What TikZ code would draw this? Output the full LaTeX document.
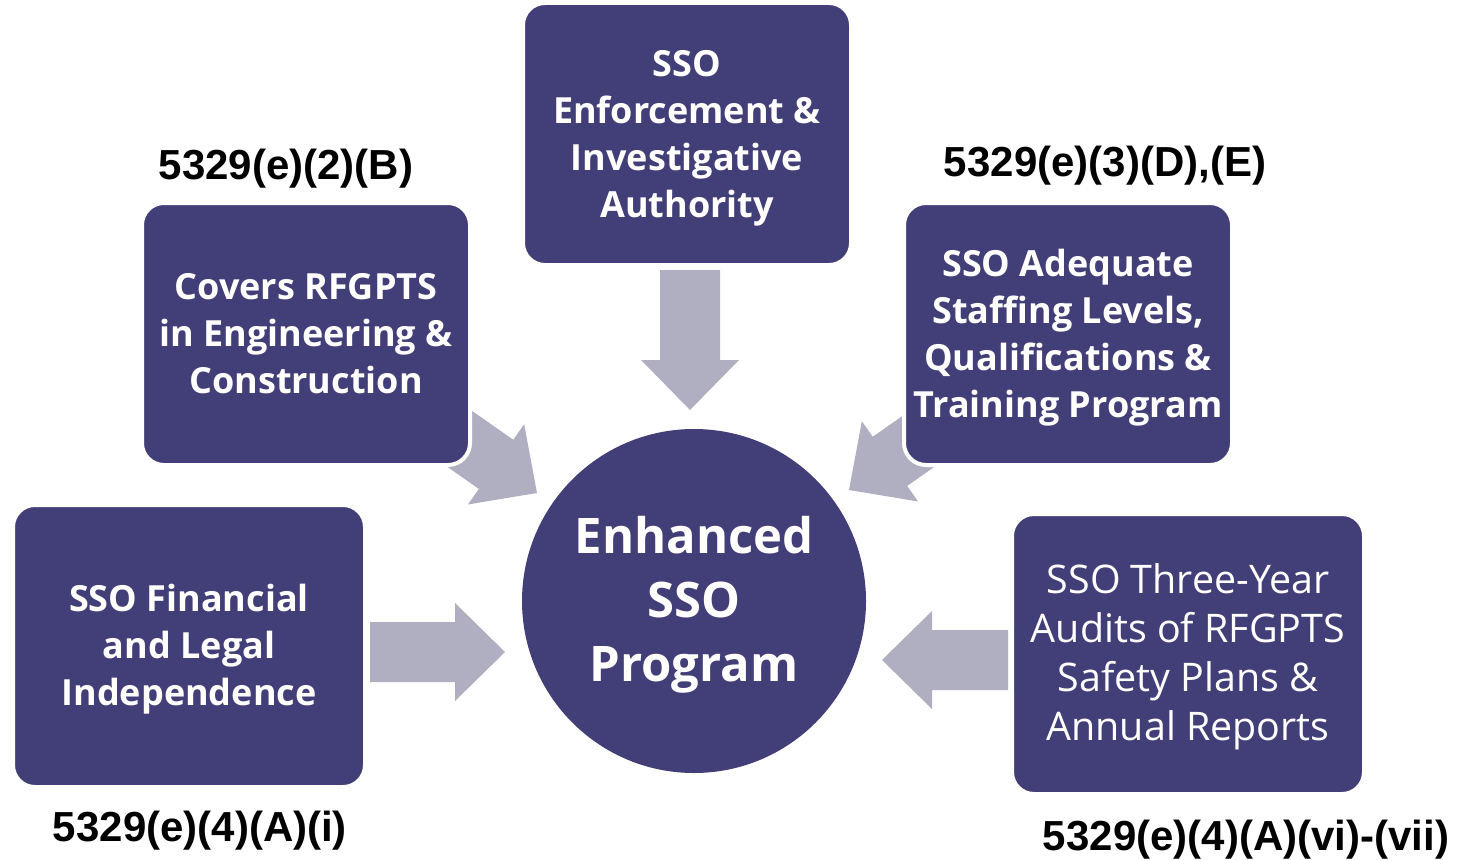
\documentclass[tikz,border=0pt]{standalone}
\usepackage{fontspec}
\setmainfont{Open Sans}
\newfontfamily\reffont{Liberation Sans}
\definecolor{sso}{HTML}{423E78}
\definecolor{arr}{HTML}{B0AFC1}
\tikzset{
    box/.style={draw=white, line width=2pt, fill=sso, rounded corners=11pt,
        inner sep=0pt},
    boxtext/.style={text=white, align=center, inner sep=0pt,
        font=\bfseries\fontsize{18}{23.5}\selectfont},
    hub/.style={circle, fill=sso, inner sep=0pt, minimum size=172pt},
    hubtext/.style={text=white, align=center, inner sep=0pt,
        font=\bfseries\fontsize{24.5}{32}\selectfont},
    reflabel/.style={font=\reffont\bfseries\fontsize{21}{24}\selectfont},
    fatarrow/.style={fill=arr}
}
% tip, angle, length
\newcommand\fatarrow[3]{%
    \fill[fatarrow, shift={#1}, rotate=#2] (0,0) -- (-50,49) -- (-50,30)
        -- (-#3,30) -- (-#3,-30) -- (-50,-30) -- (-50,-49) -- cycle;}

\begin{document}
\begin{tikzpicture}[x=0.5pt, y=0.5pt]
    \useasboundingbox (0,0) rectangle (1459,859);

    % Arrows into the hub
    \fatarrow{(690,449)}{-90}{140}
    \fatarrow{(505,207)}{0}{135}
    \fatarrow{(882,199)}{180}{126}
    \fatarrow{(537,366)}{-35}{120}
    \fatarrow{(849,369)}{215}{120}

    % Hub
    \node[hub] (hub) at (694,258) {};
    \node[hubtext] (hubtext) at ([yshift=-2pt]hub.center) {Enhanced\\SSO\\Program};

    % Boxes
    \node[box, minimum width=164pt, minimum height=131pt] (enforce) at (687,725) {};
    \node[box, minimum width=164pt, minimum height=131pt] (covers) at (306,525) {};
    \node[box, minimum width=164pt, minimum height=131pt] (staff) at (1068,525) {};
    \node[box, minimum width=176pt, minimum height=141pt] (indep) at (189,213) {};
    \node[box, minimum width=176pt, minimum height=140pt] (audit) at (1188,205) {};

    \node[boxtext] (enforcetext) at ([yshift=-2pt]enforce.center)
        {SSO\\Enforcement \&\\Investigative\\Authority};
    \node[boxtext] (coverstext) at (covers.center)
        {Covers RFGPTS\\in Engineering \&\\Construction};
    \node[boxtext] (stafftext) at ([yshift=-2pt]staff.center)
        {SSO Adequate\\Staffing Levels,\\Qualifications \&\\Training Program};
    \node[boxtext] (indeptext) at ([yshift=-1.5pt]indep.center)
        {SSO Financial\\and Legal\\Independence};
    \node[boxtext, font=\fontsize{19.7}{24.5}\selectfont] (audittext) at ([yshift=-1.5pt]audit.center)
        {SSO Three-Year\\Audits of RFGPTS\\Safety Plans \&\\Annual Reports};

    % Statute references
    \node[reflabel] (refcovers) at (286,690) {5329(e)(2)(B)};
    \node[reflabel] (refstaff) at (1105,693) {5329(e)(3)(D),(E)};
    \node[reflabel] (refindep) at (200,28) {5329(e)(4)(A)(i)};
    \node[reflabel] (refaudit) at (1246,19) {5329(e)(4)(A)(vi)-(vii)};
\end{tikzpicture}
\end{document}
